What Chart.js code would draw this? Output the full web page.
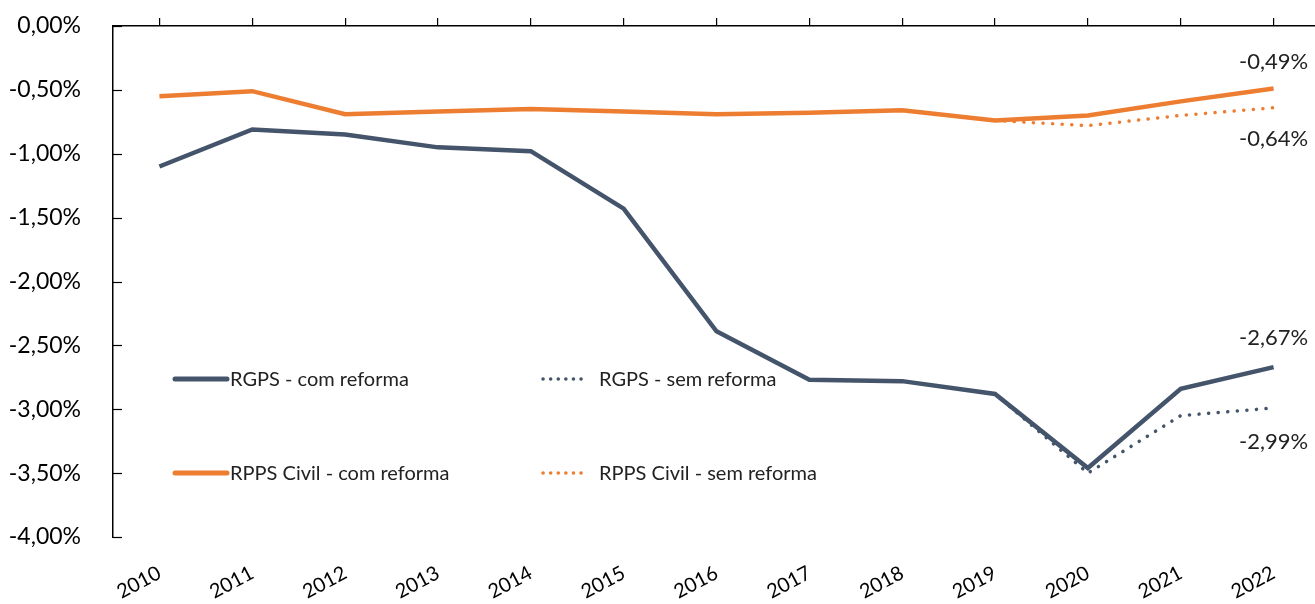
<!DOCTYPE html>
<html>
<head>
<meta charset="utf-8">
<script src="https://cdn.jsdelivr.net/npm/chart.js@4"></script>
<style>
  html, body { margin: 0; padding: 0; background: #fff; overflow: hidden; }
  #wrap { width: 1320px; height: 604px; }
</style>
</head>
<body>
<div id="wrap"><canvas id="chart"></canvas></div>
<script>
// data (percent)
const years = ['2010','2011','2012','2013','2014','2015','2016','2017','2018','2019','2020','2021','2022'];
const rgpsCom = [-1.10, -0.81, -0.85, -0.95, -0.98, -1.43, -2.39, -2.77, -2.78, -2.88, -3.46, -2.84, -2.67];
const rgpsSem = [null, null, null, null, null, null, null, null, null, -2.88, -3.50, -3.05, -2.99];
const rppsCom = [-0.55, -0.51, -0.69, -0.67, -0.65, -0.67, -0.69, -0.68, -0.66, -0.74, -0.70, -0.59, -0.49];
const rppsSem = [null, null, null, null, null, null, null, null, null, -0.74, -0.78, -0.70, -0.64];
const yTicks = [0, -0.5, -1, -1.5, -2, -2.5, -3, -3.5, -4];

const navy = '#44546A';
const orange = '#ED7D31';
const FONT = 'Lato, "Open Sans", sans-serif';

function pct(v) {
    return Math.abs(v).toFixed(2).replace('.', ',') + '%';
}
function pctSigned(v) {
    return (v < 0 ? '-' : '') + pct(v);
}

// inner tick marks, end labels and the legend block inside the plot
const extras = {
    id: 'extras',
    afterDatasetsDraw(chart) {
        const ctx = chart.ctx;
        const area = chart.chartArea;
        const y = chart.scales.y;

        ctx.save();
        ctx.strokeStyle = '#000';
        ctx.lineWidth = 1.2;
        yTicks.forEach(v => {
            const py = Math.round(y.getPixelForValue(v)) + 0.5;
            ctx.beginPath();
            ctx.moveTo(area.left, py);
            ctx.lineTo(area.left + 9, py);
            ctx.stroke();
        });

        // value labels at the last year
        ctx.font = '22px ' + FONT;
        ctx.fillStyle = '#222';
        ctx.textAlign = 'center';
        ctx.textBaseline = 'middle';
        const last = years.length - 1;
        const endLabels = [
            { ds: 0, off: -29 },
            { ds: 2, off: -27 },
            { ds: 1, off: 34 },
            { ds: 3, off: 31 }
        ];
        endLabels.forEach(e => {
            const pt = chart.getDatasetMeta(e.ds).data[last];
            const v = chart.data.datasets[e.ds].data[last];
            ctx.fillText(pctSigned(v), pt.x, pt.y + e.off);
        });

        // legend, 2 x 2
        const cols = [area.left + 62, area.left + 428];
        const rows = [379, 473];
        const order = [[0, 1], [2, 3]];
        ctx.font = '20px ' + FONT;
        ctx.textAlign = 'left';
        ctx.fillStyle = '#222';
        order.forEach((pair, r) => {
            pair.forEach((di, c) => {
                const ds = chart.data.datasets[di];
                const x0 = cols[c];
                const yy = rows[r];
                ctx.strokeStyle = ds.borderColor;
                if (ds.borderDash && ds.borderDash.length) {
                    ctx.lineWidth = 3.5;
                    ctx.lineCap = 'round';
                    ctx.setLineDash([0.1, 7.5]);
                    ctx.beginPath();
                    ctx.moveTo(x0 + 2, yy);
                    ctx.lineTo(x0 + 42, yy);
                    ctx.stroke();
                    ctx.setLineDash([]);
                    ctx.fillText(ds.label, x0 + 58, yy + 1);
                } else {
                    ctx.lineWidth = 5;
                    ctx.lineCap = 'round';
                    ctx.beginPath();
                    ctx.moveTo(x0, yy);
                    ctx.lineTo(x0 + 52, yy);
                    ctx.stroke();
                    ctx.fillText(ds.label, x0 + 55, yy + 1);
                }
            });
        });
        ctx.restore();
    }
};

const ctx = document.getElementById('chart').getContext('2d');
new Chart(ctx, {
    type: 'line',
    data: {
        labels: years,
        datasets: [
            { label: 'RGPS - com reforma', data: rgpsCom, borderColor: navy, borderWidth: 4.5, pointRadius: 0, tension: 0 },
            { label: 'RGPS - sem reforma', data: rgpsSem, borderColor: navy, borderWidth: 3.5, borderDash: [0.1, 9.5], borderCapStyle: 'round', pointRadius: 0, tension: 0 },
            { label: 'RPPS Civil - com reforma', data: rppsCom, borderColor: orange, borderWidth: 4.5, pointRadius: 0, tension: 0 },
            { label: 'RPPS Civil - sem reforma', data: rppsSem, borderColor: orange, borderWidth: 3.5, borderDash: [0.1, 9.5], borderCapStyle: 'round', pointRadius: 0, tension: 0 }
        ]
    },
    options: {
        responsive: true,
        maintainAspectRatio: false,
        animation: false,
        layout: { padding: 0 },
        plugins: {
            legend: { display: false },
            tooltip: { enabled: false }
        },
        scales: {
            x: {
                position: 'bottom',
                offset: true,
                grid: { display: false },
                border: { display: false },
                ticks: {
                    color: '#000',
                    font: { family: FONT, size: 20 },
                    minRotation: 28,
                    maxRotation: 28,
                    padding: 16,
                    autoSkip: false
                },
                afterFit: s => { s.height = 67; s.paddingLeft = 0; s.paddingRight = 0; }
            },
            x2: {
                position: 'top',
                type: 'category',
                labels: years,
                offset: true,
                grid: { display: true, drawOnChartArea: false, drawTicks: true, tickLength: 8, color: '#000', lineWidth: 1.2 },
                border: { display: true, color: '#000', width: 1.5 },
                ticks: { display: false },
                afterFit: s => { s.height = 26; s.paddingLeft = 0; s.paddingRight = 0; }
            },
            y: {
                min: -4,
                max: 0,
                afterBuildTicks: s => { s.ticks = yTicks.map(v => ({ value: v })); },
                grid: { display: false },
                border: { display: true, color: '#000', width: 1.5 },
                ticks: {
                    color: '#000',
                    font: { family: FONT, size: 23 },
                    padding: 24,
                    callback: v => pctSigned(v)
                },
                afterFit: s => { s.width = 113; s.paddingTop = 0; s.paddingBottom = 0; }
            }
        }
    },
    plugins: [extras]
});
</script>
</body>
</html>
